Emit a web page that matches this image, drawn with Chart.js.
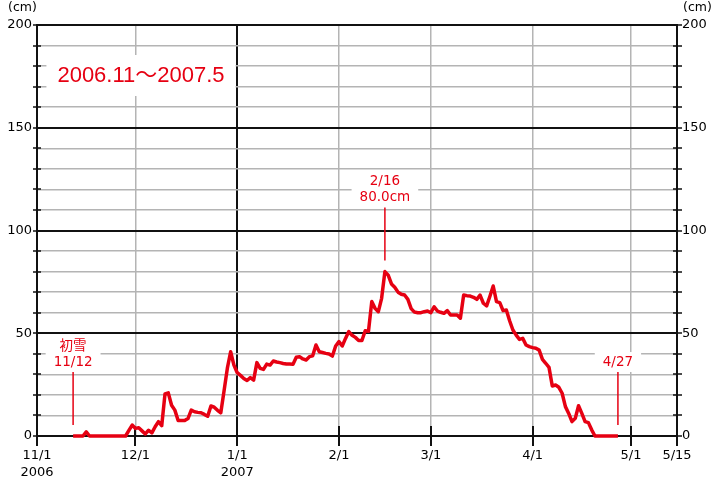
<!DOCTYPE html>
<html><head><meta charset="utf-8">
<script src="https://cdn.jsdelivr.net/npm/chart.js@4"></script>
<style>html,body{margin:0;padding:0;background:#fff}#wrap{width:717px;height:500px;position:relative}</style>
</head><body><div id="wrap"><canvas id="c" width="717" height="500"></canvas></div>
<script>
// ---- data ----
const startDay = 11; // days after 11/1 (first value = 11/12)
const snowDepth = [
  0, 0, 0, 0, 2, 0, 0, 0, 0, 0,          // 11/12-11/21
  0, 0, 0, 0, 0, 0, 0, 2.7, 5.3, 3.7,    // 11/22-12/1
  4, 2.5, 1, 2.8, 1.5, 4.5, 7, 5, 20.5, 21,   // 12/2-12/11
  15, 12.6, 7.5, 7.5, 7.5, 8.5, 12.6, 11.8, 11.5, 11.3, // 12/12-12/21
  10.5, 9.6, 14.6, 14, 12.5, 11.3, 22, 33, 41, 34.5,     // 12/22-12/31
  30.8, 29.5, 28, 27, 28.4, 27.2, 35.7, 32.9, 32.4, 35,  // 1/1-1/10
  34.5, 36.5, 36, 35.7, 35.3, 35, 35, 34.9, 38.3, 38.6,  // 1/11-1/20
  37.5, 37, 38.6, 39, 44.3, 41, 40.6, 40.2, 39.9, 38.9,  // 1/21-1/30
  43.8, 45.9, 43.8, 47.5, 50.8, 49, 48, 46.5, 46.5, 51.2, // 1/31-2/9
  51, 65.4, 62.1, 60.5, 67, 80, 78.3, 74, 72.4, 70,      // 2/10-2/19
  69, 68.6, 66.5, 62, 60.3, 60, 60, 60.5, 60.8, 60,      // 2/20-3/1
  62.9, 60.8, 60.2, 59.7, 61, 58.9, 58.9, 58.9, 57.3, 68.6, // 3/2-3/11
  68.3, 68.1, 67.5, 66.5, 68.6, 64.6, 63.3, 68, 73, 65.4,   // 3/12-3/21
  64.9, 61, 61.3, 56.1, 51.6, 49.1, 47, 47.5, 44.3, 43.5,   // 3/22-3/31
  43, 42.7, 41.8, 37.3, 35.4, 33.4, 24.3, 24.8, 23.7, 20.8, // 4/1-4/10
  14.3, 11, 7, 8.6, 14.7, 11, 7, 6.5, 3, 0,                 // 4/11-4/20
  0, 0, 0, 0, 0, 0, 0                                       // 4/21-4/27
];
const monthTickDays = [0, 30, 61, 92, 120, 151, 181, 195];
const monthTickLabels = [["11/1", "2006"], "12/1", ["1/1", "2007"], "2/1", "3/1", "4/1", "5/1", "5/15"];
const yearBoundaryDay = 61;
const yMax = 200;
const yMinorStep = 10;
const yMajorStep = 50;
const titleText = "2006.11～2007.5";
const unitText = "(cm)";
const annotationDays = [11, 106, 177];
const annotationTexts = [["初雪", "11/12"], ["2/16", "80.0cm"], ["4/27"]];

// ---- styles ----
const RED = '#e60012';
const BLACK = '#111';
const GRAY = '#b4b4b4';
const AXIS_FONT = "'DejaVu Sans', 'Noto Sans CJK JP', sans-serif";

const overlay = {
  id: 'overlay',
  beforeDatasetsDraw(chart) {
    const { ctx, chartArea: a, scales: { x, y } } = chart;
    ctx.save();
    // title box
    ctx.font = "22px 'Liberation Sans', 'Noto Sans CJK JP', sans-serif";
    const tcx = a.left + 104, tcy = a.top + 50;
    const tw = ctx.measureText(titleText).width;
    ctx.fillStyle = '#fff';
    ctx.fillRect(tcx - tw / 2 - 11, tcy - 20, tw + 22, 41);
    ctx.fillStyle = RED;
    ctx.textAlign = 'center';
    ctx.textBaseline = 'middle';
    ctx.fillText(titleText, tcx, tcy + 1);

    // tick marks crossing the axes
    ctx.strokeStyle = BLACK;
    ctx.lineWidth = 1.5;
    for (let v = 0; v <= yMax; v += yMinorStep) {
      const py = Math.round(y.getPixelForValue(v));
      ctx.beginPath();
      ctx.moveTo(a.left - 4, py); ctx.lineTo(a.left + 4, py);
      ctx.moveTo(a.right - 4, py); ctx.lineTo(a.right + 5, py);
      ctx.stroke();
    }
    ctx.lineWidth = 2;
    monthTickDays.forEach(d => {
      const px = Math.round(x.getPixelForValue(d));
      ctx.beginPath();
      ctx.moveTo(px, a.bottom - 10); ctx.lineTo(px, a.bottom + 10);
      ctx.stroke();
    });

    // annotations
    ctx.font = "13.5px " + AXIS_FONT;
    annotationDays.forEach((d, k) => {
      const val = snowDepth[d - startDay];
      const px = x.getPixelForValue(d);
      const py = y.getPixelForValue(val);
      const lineBottom = py - 11, lineTop = lineBottom - 53;
      const lines = annotationTexts[k];
      const lastY = lineTop - 10;
      let maxW = 0;
      lines.forEach(t => { maxW = Math.max(maxW, ctx.measureText(t).width); });
      const boxTop = lastY - (lines.length - 1) * 16 - 10;
      ctx.fillStyle = '#fff';
      ctx.fillRect(px - maxW / 2 - 8, boxTop, maxW + 16, lastY + 10 - boxTop);
      ctx.fillStyle = RED;
      lines.forEach((t, i) => {
        ctx.fillText(t, px, lastY - (lines.length - 1 - i) * 16);
      });
      ctx.strokeStyle = RED;
      ctx.lineWidth = 1.5;
      ctx.beginPath();
      ctx.moveTo(px, lineTop); ctx.lineTo(px, lineBottom);
      ctx.stroke();
    });

    // unit labels
    ctx.fillStyle = '#000';
    ctx.font = "12.5px " + AXIS_FONT;
    ctx.textAlign = 'left';
    ctx.fillText(unitText, 8, 8);
    ctx.fillText(unitText, a.right + 6, 8);
    ctx.restore();
  }
};

const yTicks = [];
for (let v = 0; v <= yMax; v += yMinorStep) yTicks.push({ value: v });

const yScaleCommon = {
  min: 0, max: yMax,
  afterBuildTicks: s => { s.ticks = yTicks.map(t => ({ value: t.value })); },
  ticks: {
    autoSkip: false, padding: 5, color: '#000',
    font: { family: AXIS_FONT, size: 13 },
    callback: v => (v % yMajorStep === 0 ? String(v) : '')
  },
  border: { display: true, color: BLACK, width: 2 }
};

new Chart(document.getElementById('c'), {
  type: 'line',
  data: {
    datasets: [{
      data: snowDepth.map((v, i) => ({ x: startDay + i, y: v })),
      borderColor: RED,
      borderWidth: 3.5,
      pointRadius: 0,
      tension: 0,
      fill: false,
      borderJoinStyle: 'round',
      clip: 4
    }]
  },
  options: {
    responsive: false,
    animation: false,
    devicePixelRatio: 1,
    layout: { padding: { top: 25, left: 0, right: 0, bottom: 0 } },
    plugins: { legend: { display: false }, tooltip: { enabled: false } },
    scales: {
      x: {
        type: 'linear', min: 0, max: 195,
        afterBuildTicks: s => { s.ticks = monthTickDays.map(v => ({ value: v })); },
        ticks: {
          autoSkip: false, maxRotation: 0, padding: 11, color: '#000',
          font: { family: AXIS_FONT, size: 13, lineHeight: 17 / 13 },
          callback: (v, i) => monthTickLabels[i]
        },
        grid: {
          drawTicks: false,
          color: c => (c.tick && (c.tick.value === yearBoundaryDay || c.tick.value === 0 || c.tick.value === 195) ? BLACK : GRAY),
          lineWidth: c => (c.tick && (c.tick.value === yearBoundaryDay || c.tick.value === 0 || c.tick.value === 195) ? 2 : 1.5)
        },
        border: { display: true, color: BLACK, width: 2 },
        afterFit: s => { s.height = 64; }
      },
      y: Object.assign({}, yScaleCommon, {
        position: 'left',
        grid: {
          drawTicks: false,
          color: c => (c.tick && c.tick.value % yMajorStep === 0 ? BLACK : GRAY),
          lineWidth: c => (c.tick && c.tick.value % yMajorStep === 0 ? 2 : 1.5)
        },
        afterFit: s => { s.width = 37; }
      }),
      y2: Object.assign({}, yScaleCommon, {
        position: 'right',
        grid: { drawOnChartArea: false, drawTicks: false },
        afterFit: s => { s.width = 40; }
      })
    }
  },
  plugins: [overlay]
});
</script>
</body></html>
